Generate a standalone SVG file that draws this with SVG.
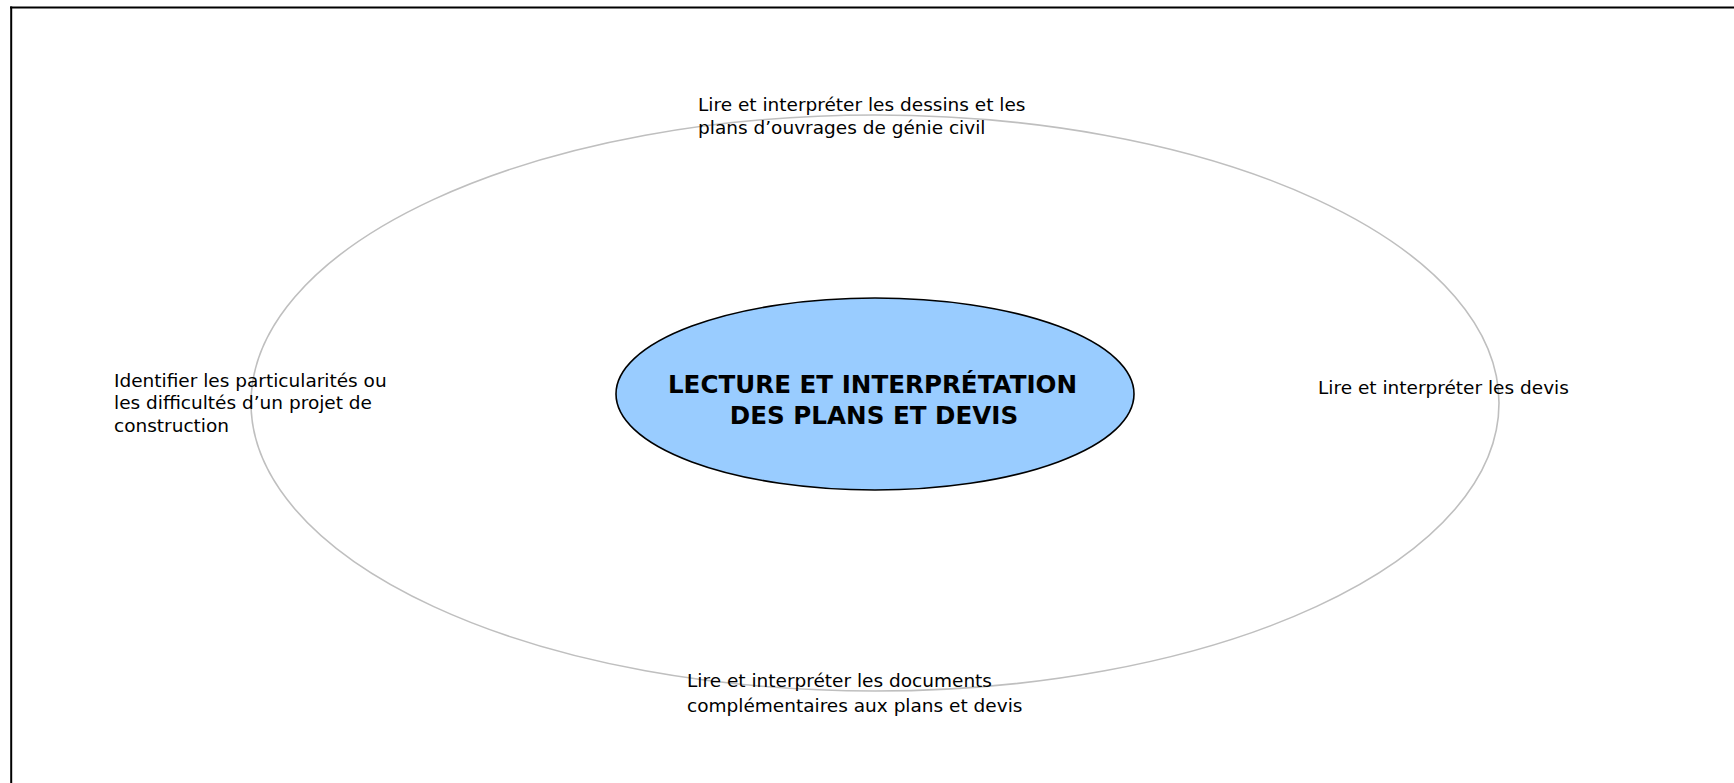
<svg xmlns="http://www.w3.org/2000/svg" width="1734" height="783" viewBox="0 0 1734 783">
<style>
.lbl{font-family:"DejaVu Sans","Verdana",sans-serif;font-size:18.5px;fill:#000}
.title{font-family:"DejaVu Sans","Verdana",sans-serif;font-size:24.6px;font-weight:bold;fill:#000;text-anchor:middle}
.frame{stroke:#000;stroke-width:2;fill:none}
</style>
<rect width="1734" height="783" fill="#fff"/>
<g id="frame">
<line class="frame" x1="10" y1="7.5" x2="1734" y2="7.5"/>
<line class="frame" x1="11.2" y1="6.5" x2="11.2" y2="783"/>
</g>
<g id="ring">
<ellipse cx="875" cy="403" rx="624" ry="288" fill="none" stroke="#BFBFBF" stroke-width="1.6"/>
</g>
<g id="center">
<ellipse cx="875" cy="394" rx="259" ry="96" fill="#99CCFF" stroke="#000" stroke-width="1.6"/>
<text class="title"><tspan x="872.5" y="393">LECTURE ET INTERPRÉTATION</tspan><tspan x="874" y="424">DES PLANS ET DEVIS</tspan></text>
</g>
<g id="top">
<text class="lbl"><tspan x="698" y="111">Lire et interpréter les dessins et les</tspan><tspan x="698" y="134">plans d’ouvrages de génie civil</tspan></text>
</g>
<g id="left">
<text class="lbl"><tspan x="114" y="387">Identifier les particularités ou</tspan><tspan x="114" y="409">les difficultés d’un projet de</tspan><tspan x="114" y="432">construction</tspan></text>
</g>
<g id="right">
<text class="lbl"><tspan x="1318" y="394">Lire et interpréter les devis</tspan></text>
</g>
<g id="bottom">
<text class="lbl"><tspan x="687" y="687">Lire et interpréter les documents</tspan><tspan x="687" y="712">complémentaires aux plans et devis</tspan></text>
</g>
<g id="connectors"/>
</svg>
